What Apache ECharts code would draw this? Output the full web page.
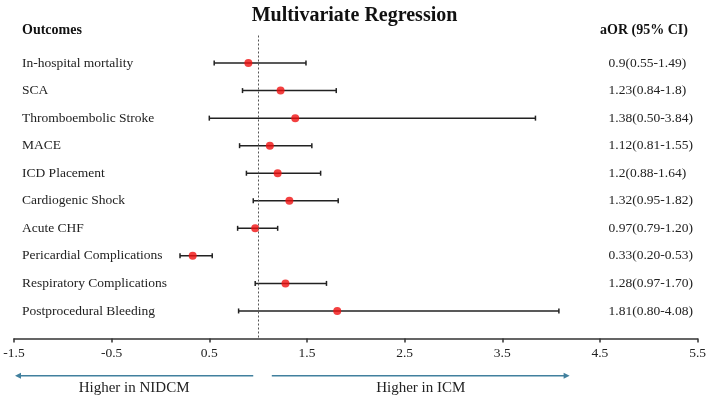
<!DOCTYPE html>
<html>
<head>
<meta charset="utf-8">
<script src="https://cdn.jsdelivr.net/npm/echarts@6/dist/echarts.min.js"></script>
<style>html,body{margin:0;padding:0;background:#fff;}#c{width:709px;height:402px;}</style>
</head>
<body>
<div id="c"></div>
<script>
const outcomes = ["In-hospital mortality","SCA","Thromboembolic Stroke","MACE","ICD Placement","Cardiogenic Shock","Acute CHF","Pericardial Complications","Respiratory Complications","Postprocedural Bleeding"];
const aOR =  [0.9, 1.23, 1.38, 1.12, 1.2, 1.32, 0.97, 0.33, 1.28, 1.81];
const lower = [0.55, 0.84, 0.50, 0.81, 0.88, 0.95, 0.79, 0.20, 0.97, 0.80];
const upper = [1.49, 1.8, 3.84, 1.55, 1.64, 1.82, 1.20, 0.53, 1.70, 4.08];
const ciLabels = ["0.9(0.55-1.49)","1.23(0.84-1.8)","1.38(0.50-3.84)","1.12(0.81-1.55)","1.2(0.88-1.64)","1.32(0.95-1.82)","0.97(0.79-1.20)","0.33(0.20-0.53)","1.28(0.97-1.70)","1.81(0.80-4.08)"];
const xTicks = [-1.5, -0.5, 0.5, 1.5, 2.5, 3.5, 4.5, 5.5];
const refLine = 1;
const arrowNIDCM = [0.95, -1.49];
const arrowICM = [1.14, 4.19];
const arrowTexts = ["Higher in NIDCM", "Higher in ICM"];

const FONT = "Liberation Serif";
const chart = echarts.init(document.getElementById('c'), null, {renderer: 'canvas'});

const rows = outcomes.map((n, i) => i + 1);
const errData = rows.map((r, i) => [r, lower[i], upper[i]]);
const ptData = rows.map((r, i) => [aOR[i], r]);

const yAxisBase = {
  type: 'value', min: 0, max: outcomes.length + 1, interval: 1, inverse: true,
  axisLine: {show: false}, axisTick: {show: false}, splitLine: {show: false}
};

chart.setOption({
  animation: false,
  backgroundColor: '#fff',
  title: [
    {text: 'Multivariate Regression', left: 'center', top: 1,
     textStyle: {fontFamily: FONT, fontSize: 20, fontWeight: 'bold', color: '#111'}},
    {text: 'Outcomes', left: 17, top: 18,
     textStyle: {fontFamily: FONT, fontSize: 14, fontWeight: 'bold', color: '#111'}},
    {text: 'aOR (95% CI)', left: 595, top: 18,
     textStyle: {fontFamily: FONT, fontSize: 14, fontWeight: 'bold', color: '#111'}}
  ],
  grid: {left: 14, right: 8, top: 35.5, bottom: 63.5, containLabel: false},
  xAxis: {
    type: 'value', min: -1.5, max: 5.5, position: 'bottom',
    axisLine: {show: true, onZero: false, lineStyle: {color: '#333', width: 1.5}},
    axisTick: {show: true, customValues: xTicks, length: 4, lineStyle: {color: '#333', width: 1.5}},
    axisLabel: {customValues: xTicks, margin: 8, fontFamily: FONT, fontSize: 13.5, color: '#222',
      formatter: v => String(v)},
    splitLine: {show: false}
  },
  yAxis: [
    Object.assign({}, yAxisBase, {
      position: 'left',
      axisLabel: {inside: true, margin: 8, align: 'left', fontFamily: FONT, fontSize: 13.5, color: '#222',
        formatter: v => outcomes[v - 1] || ''}
    }),
    Object.assign({}, yAxisBase, {
      position: 'right',
      axisLabel: {inside: true, margin: 89, align: 'left', fontFamily: FONT, fontSize: 13.5, color: '#222',
        formatter: v => ciLabels[v - 1] || ''}
    })
  ],
  series: [
    {
      type: 'custom',
      data: errData,
      encode: {x: [1, 2], y: 0},
      renderItem: function (params, api) {
        const y = api.value(0);
        const p1 = api.coord([api.value(1), y]);
        const p2 = api.coord([api.value(2), y]);
        const h = 2.5;
        const style = {stroke: '#222', lineWidth: 1.5};
        return {
          type: 'group',
          children: [
            {type: 'line', shape: {x1: p1[0], y1: p1[1], x2: p2[0], y2: p2[1]}, style: style},
            {type: 'line', shape: {x1: p1[0], y1: p1[1] - h, x2: p1[0], y2: p1[1] + h}, style: style},
            {type: 'line', shape: {x1: p2[0], y1: p2[1] - h, x2: p2[0], y2: p2[1] + h}, style: style}
          ]
        };
      },
      z: 2
    },
    {
      type: 'scatter',
      data: ptData,
      symbol: 'circle',
      symbolSize: 8,
      itemStyle: {color: '#f01010'},
      z: 3,
      markLine: {
        silent: true,
        symbol: 'none',
        label: {show: false},
        lineStyle: {type: [2, 2], color: '#555', width: 1},
        data: [{xAxis: refLine}]
      }
    }
  ]
});

const ARROW_Y = 375.7;
const TEXT_Y = 388;
function px(v) { return chart.convertToPixel({xAxisIndex: 0}, v); }
function arrowGraphic(seg, text) {
  const x1 = px(seg[0]), x2 = px(seg[1]);
  const dir = x2 > x1 ? 1 : -1;
  const col = '#41809e';
  return [
    {type: 'line', shape: {x1: x1, y1: ARROW_Y, x2: x2 - dir * 4, y2: ARROW_Y},
     style: {stroke: col, lineWidth: 1.5}},
    {type: 'polygon', shape: {points: [[x2, ARROW_Y], [x2 - dir * 6, ARROW_Y - 3], [x2 - dir * 6, ARROW_Y + 3]]},
     style: {fill: col}},
    {type: 'text', x: (x1 + x2) / 2, y: TEXT_Y,
     style: {text: text, fontFamily: FONT, fontSize: 15, fill: '#222', align: 'center', verticalAlign: 'middle'}}
  ];
}
chart.setOption({
  graphic: arrowGraphic(arrowNIDCM, arrowTexts[0]).concat(arrowGraphic(arrowICM, arrowTexts[1]))
});
</script>
</body>
</html>
